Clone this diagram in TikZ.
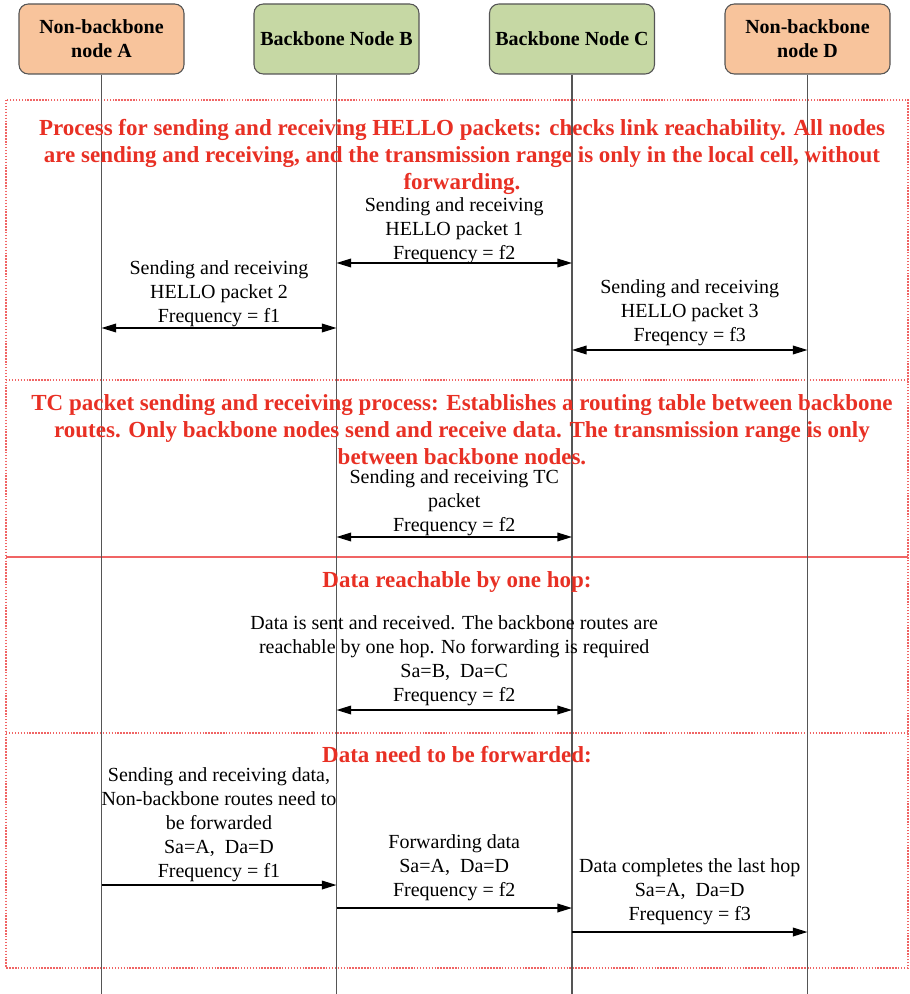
\documentclass[tikz,border=0pt]{standalone}
\usepackage{fontspec}
\setmainfont{Liberation Serif}
\usetikzlibrary{arrows.meta,positioning}

\definecolor{boxorange}{RGB}{248,196,156}
\definecolor{boxgreen}{RGB}{198,216,164}
\definecolor{headred}{RGB}{232,48,36}
\definecolor{framered}{RGB}{240,100,100}
\definecolor{lifegray}{RGB}{85,85,85}

\begin{document}
\begin{tikzpicture}[
			x = 0.75pt, y = -0.75pt,
			actor/.style = {draw = lifegray, line width = 0.8pt, rounded corners = 7pt,
				minimum width = 123.75pt, minimum height = 52.5pt, inner sep = 0pt,
				align = center, font = \fontsize{15}{18}\selectfont\bfseries},
			lifeline/.style = {draw = lifegray, line width = 1.1pt},
			frame/.style = {draw = framered, line width = 1.1pt, dash pattern = on 1.1pt off 1.1pt},
			msg/.style = {line width = 1.1pt, -{Triangle[length = 11pt, width = 6.5pt]}},
			dmsg/.style = {line width = 1.1pt, {Triangle[length = 11pt, width = 6.5pt]}-{Triangle[length = 11pt, width = 6.5pt]}},
			lbl/.style = {anchor = south, inner sep = 1.5pt, yshift = 2pt, align = center,
				font = \fontsize{15}{18}\selectfont},
			head/.style = {align = center, text = headred, inner sep = 0pt,
				font = \fontsize{17.25}{20.25}\selectfont\bfseries}
			]

			\useasboundingbox (0,0) rectangle (909,994);

			% section frames
			\draw[frame] (6,100) rectangle (908,968);
			\draw[frame] (6,380) -- (908,380);
			\draw[draw = framered, line width = 1.1pt] (6,557) -- (908,557);
			\draw[frame] (6,733) -- (908,733);

			% participants
			\node[actor, fill = boxorange] (nodeA) at (101.5,39) {Non-backbone\\node A};
			\node[actor, fill = boxgreen] (nodeB) at (336.5,39) {Backbone Node B};
			\node[actor, fill = boxgreen] (nodeC) at (572,39) {Backbone Node C};
			\node[actor, fill = boxorange] (nodeD) at (807.5,39) {Non-backbone\\node D};

			\foreach \n in {nodeA,nodeB,nodeC,nodeD}{
				\coordinate (\n-end) at (\n.south |- 0,994);
				\draw[lifeline] (\n.south) -- (\n-end);
			}

			% headings
			\node[head] (hello) at (462,157) {Process for sending and receiving HELLO packets: checks link reachability. All nodes\\are sending and receiving, and the transmission range is only in the local cell, without\\forwarding.};
			\node[head] (tc) at (462,430) {TC packet sending and receiving process: Establishes a routing table between backbone\\routes. Only backbone nodes send and receive data. The transmission range is only\\between backbone nodes.};
			\node[head] (onehop) at (457,582) {Data reachable by one hop:};
			\node[head] (fwd) at (457,755) {Data need to be forwarded:};

			% message points on the lifelines
			\coordinate (h1B) at (nodeB.south |- 0,263);
			\coordinate (h1C) at (nodeC.south |- 0,263);
			\coordinate (h2A) at (nodeA.south |- 0,328);
			\coordinate (h2B) at (nodeB.south |- 0,328);
			\coordinate (h3C) at (nodeC.south |- 0,350);
			\coordinate (h3D) at (nodeD.south |- 0,350);
			\coordinate (tcB) at (nodeB.south |- 0,537);
			\coordinate (tcC) at (nodeC.south |- 0,537);
			\coordinate (ohB) at (nodeB.south |- 0,710);
			\coordinate (ohC) at (nodeC.south |- 0,710);
			\coordinate (f1A) at (nodeA.south |- 0,885);
			\coordinate (f1B) at (nodeB.south |- 0,885);
			\coordinate (f2B) at (nodeB.south |- 0,908);
			\coordinate (f2C) at (nodeC.south |- 0,908);
			\coordinate (f3C) at (nodeC.south |- 0,932);
			\coordinate (f3D) at (nodeD.south |- 0,932);

			% HELLO
			\draw[dmsg] (h1B) -- (h1C) node[lbl, midway, yshift = -4.5pt] {Sending and receiving\\HELLO packet 1\\Frequency = f2};
			\draw[dmsg] (h2A) -- (h2B) node[lbl, midway, yshift = -3.5pt] {Sending and receiving\\HELLO packet 2\\Frequency = f1};
			\draw[dmsg] (h3C) -- (h3D) node[lbl, midway, yshift = -1pt] {Sending and receiving\\HELLO packet 3\\Freqency = f3};

			% TC
			\draw[dmsg] (tcB) -- (tcC) node[lbl, midway, yshift = -3.5pt] {Sending and receiving TC\\packet\\Frequency = f2};

			% one hop
			\draw[dmsg] (ohB) -- (ohC) node[lbl, midway, yshift = -1pt] {Data is sent and received. The backbone routes are\\reachable by one hop. No forwarding is required\\Sa=B,\ \ Da=C\\Frequency = f2};

			% forwarding
			\draw[msg] (f1A) -- (f1B) node[lbl, midway, yshift = -2pt] {Sending and receiving data,\\Non-backbone routes need to\\be forwarded\\Sa=A,\ \ Da=D\\Frequency = f1};
			\draw[msg] (f2B) -- (f2C) node[lbl, midway, yshift = 1pt] {Forwarding data\\Sa=A,\ \ Da=D\\Frequency = f2};
			\draw[msg] (f3C) -- (f3D) node[lbl, midway, yshift = 1pt] {Data completes the last hop\\Sa=A,\ \ Da=D\\Frequency = f3};

		\end{tikzpicture}
\end{document}
